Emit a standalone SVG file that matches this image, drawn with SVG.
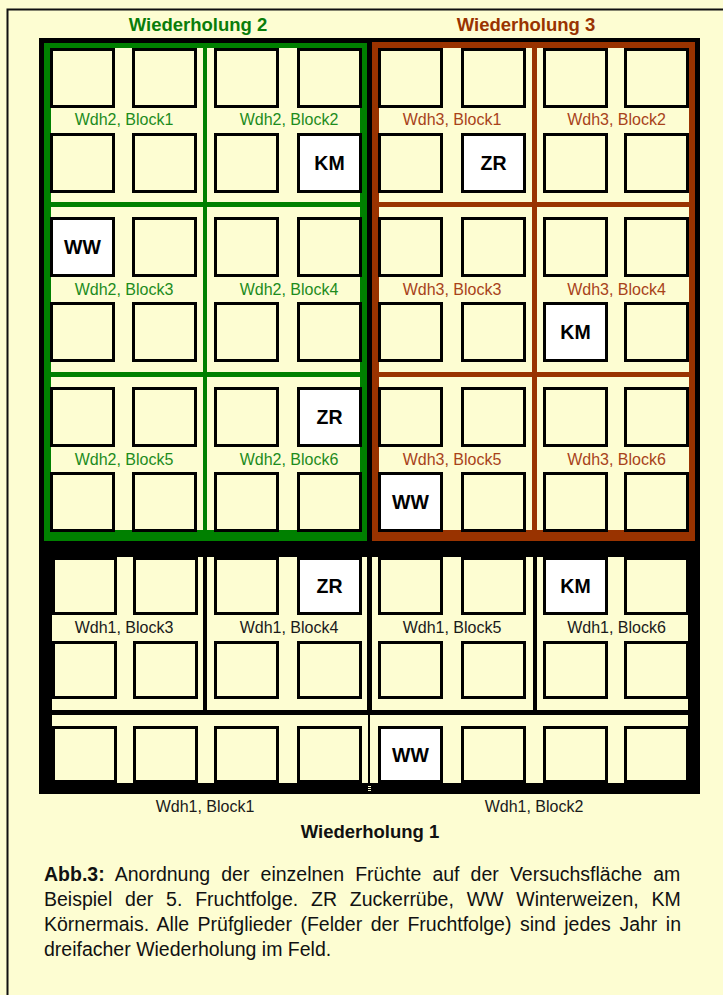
<svg xmlns="http://www.w3.org/2000/svg" width="723" height="995" viewBox="0 0 723 995">
<style>
  .cr{fill:#FDFDD2}
  .b{fill:#FDFDD2;stroke:#000;stroke-width:3}
  .w{fill:#FFFFFF;stroke:#000;stroke-width:3}
  .lbl{font-family:"Liberation Sans",Arial,sans-serif;font-size:16px;text-anchor:middle}
  .g{fill:#1d8c1d}
  .r{fill:#a8431a}
  .k{fill:#1a1a1a}
  .crop{font-family:"Liberation Sans",Arial,sans-serif;font-size:19.5px;font-weight:bold;text-anchor:middle;fill:#000}
  .title{font-family:"Liberation Sans",Arial,sans-serif;font-size:18.5px;font-weight:bold;text-anchor:middle}
  .cap{font-family:"Liberation Sans",Arial,sans-serif;font-size:19.5px;fill:#111}
</style>
<defs>
  <rect id="bx" class="b" width="62" height="57"/>
  <rect id="bx1" class="b" width="62" height="55"/>
  <rect id="bx2" class="b" width="62" height="54"/>
</defs>
<rect x="0" y="0" width="723" height="995" class="cr"/>
<g id="frame">
  <path d="M7.5,995 V9.5 H723" fill="none" stroke="#111" stroke-width="2"/>
</g>

<g id="titles">
  <text class="title" x="198" y="31" fill="#0a7d0a">Wiederholung 2</text>
  <text class="title" x="526" y="31" fill="#993300">Wiederholung 3</text>
</g>

<g id="field">
  <rect x="39" y="38" width="661" height="756" fill="#000"/>
  <rect x="44" y="43" width="323" height="498" fill="#008000"/>
  <rect x="372" y="42" width="323" height="499" fill="#993300"/>
  <!-- Wdh2 cells -->
  <rect class="cr" x="51" y="48" width="152" height="154"/>
  <rect class="cr" x="207" y="48" width="153" height="154"/>
  <rect class="cr" x="51" y="207" width="152" height="165"/>
  <rect class="cr" x="207" y="207" width="153" height="165"/>
  <rect class="cr" x="51" y="377" width="152" height="153"/>
  <rect class="cr" x="207" y="377" width="153" height="153"/>
  <!-- Wdh3 cells -->
  <rect class="cr" x="379" y="48" width="153" height="154"/>
  <rect class="cr" x="537" y="48" width="152" height="154"/>
  <rect class="cr" x="379" y="207" width="153" height="165"/>
  <rect class="cr" x="537" y="207" width="152" height="165"/>
  <rect class="cr" x="379" y="377" width="153" height="153"/>
  <rect class="cr" x="537" y="377" width="152" height="153"/>
  <!-- Wdh1 cells -->
  <rect class="cr" x="52" y="557" width="151" height="153"/>
  <rect class="cr" x="207" y="557" width="160" height="153"/>
  <rect class="cr" x="372" y="557" width="161" height="153"/>
  <rect class="cr" x="537" y="557" width="151" height="153"/>
  <rect class="cr" x="52" y="715" width="636" height="68"/>
  <rect x="368" y="715" width="2" height="68" fill="#000"/>
  <rect class="cr" x="368" y="786" width="3" height="1"/>
  <rect class="cr" x="368" y="788" width="3" height="1"/>
  <rect class="cr" x="368" y="790" width="3" height="1"/>
</g>

<g id="wdh2-block1">
  <use href="#bx" x="51.5" y="49.5"/><use href="#bx" x="133.5" y="49.5"/>
  <use href="#bx" x="51.5" y="134.5"/><use href="#bx" x="133.5" y="134.5"/>
  <text class="lbl g" x="124" y="125">Wdh2, Block1</text>
</g>
<g id="wdh2-block2">
  <use href="#bx" x="215.5" y="49.5"/><use href="#bx" x="298.5" y="49.5"/>
  <use href="#bx" x="215.5" y="134.5"/>
  <rect class="w" x="298.5" y="134.5" width="62" height="57"/>
  <text class="crop" x="329.5" y="170">KM</text>
  <text class="lbl g" x="289" y="125">Wdh2, Block2</text>
</g>
<g id="wdh2-block3">
  <rect class="w" x="51.5" y="218.5" width="62" height="57"/>
  <text class="crop" x="82.5" y="254">WW</text>
  <use href="#bx" x="133.5" y="218.5"/>
  <use href="#bx" x="51.5" y="303.5"/><use href="#bx" x="133.5" y="303.5"/>
  <text class="lbl g" x="124" y="295">Wdh2, Block3</text>
</g>
<g id="wdh2-block4">
  <use href="#bx" x="215.5" y="218.5"/><use href="#bx" x="298.5" y="218.5"/>
  <use href="#bx" x="215.5" y="303.5"/><use href="#bx" x="298.5" y="303.5"/>
  <text class="lbl g" x="289" y="295">Wdh2, Block4</text>
</g>
<g id="wdh2-block5">
  <use href="#bx" x="51.5" y="388.5"/><use href="#bx" x="133.5" y="388.5"/>
  <use href="#bx" x="51.5" y="473.5"/><use href="#bx" x="133.5" y="473.5"/>
  <text class="lbl g" x="124" y="465">Wdh2, Block5</text>
</g>
<g id="wdh2-block6">
  <use href="#bx" x="215.5" y="388.5"/>
  <rect class="w" x="298.5" y="388.5" width="62" height="57"/>
  <text class="crop" x="329.5" y="424">ZR</text>
  <use href="#bx" x="215.5" y="473.5"/><use href="#bx" x="298.5" y="473.5"/>
  <text class="lbl g" x="289" y="465">Wdh2, Block6</text>
</g>

<g id="wdh3-block1">
  <use href="#bx" x="379.5" y="49.5"/><use href="#bx" x="462.5" y="49.5"/>
  <use href="#bx" x="379.5" y="134.5"/>
  <rect class="w" x="462.5" y="134.5" width="62" height="57"/>
  <text class="crop" x="493.5" y="170">ZR</text>
  <text class="lbl r" x="452" y="125">Wdh3, Block1</text>
</g>
<g id="wdh3-block2">
  <use href="#bx" x="544.5" y="49.5"/><use href="#bx" x="625.5" y="49.5"/>
  <use href="#bx" x="544.5" y="134.5"/><use href="#bx" x="625.5" y="134.5"/>
  <text class="lbl r" x="616.5" y="125">Wdh3, Block2</text>
</g>
<g id="wdh3-block3">
  <use href="#bx" x="379.5" y="218.5"/><use href="#bx" x="462.5" y="218.5"/>
  <use href="#bx" x="379.5" y="303.5"/><use href="#bx" x="462.5" y="303.5"/>
  <text class="lbl r" x="452" y="295">Wdh3, Block3</text>
</g>
<g id="wdh3-block4">
  <use href="#bx" x="544.5" y="218.5"/><use href="#bx" x="625.5" y="218.5"/>
  <rect class="w" x="544.5" y="303.5" width="62" height="57"/>
  <text class="crop" x="575.5" y="339">KM</text>
  <use href="#bx" x="625.5" y="303.5"/>
  <text class="lbl r" x="616.5" y="295">Wdh3, Block4</text>
</g>
<g id="wdh3-block5">
  <use href="#bx" x="379.5" y="388.5"/><use href="#bx" x="462.5" y="388.5"/>
  <rect class="w" x="379.5" y="473.5" width="62" height="57"/>
  <text class="crop" x="410.5" y="509">WW</text>
  <use href="#bx" x="462.5" y="473.5"/>
  <text class="lbl r" x="452" y="465">Wdh3, Block5</text>
</g>
<g id="wdh3-block6">
  <use href="#bx" x="544.5" y="388.5"/><use href="#bx" x="625.5" y="388.5"/>
  <use href="#bx" x="544.5" y="473.5"/><use href="#bx" x="625.5" y="473.5"/>
  <text class="lbl r" x="616.5" y="465">Wdh3, Block6</text>
</g>

<g id="wdh1-block3">
  <use href="#bx1" x="53.5" y="558.5"/><use href="#bx1" x="134.5" y="558.5"/>
  <use href="#bx1" x="53.5" y="642.5"/><use href="#bx1" x="134.5" y="642.5"/>
  <text class="lbl k" x="124" y="633">Wdh1, Block3</text>
</g>
<g id="wdh1-block4">
  <use href="#bx1" x="215.5" y="558.5"/>
  <rect class="w" x="298.5" y="558.5" width="62" height="55"/>
  <text class="crop" x="329.5" y="593">ZR</text>
  <use href="#bx1" x="215.5" y="642.5"/><use href="#bx1" x="298.5" y="642.5"/>
  <text class="lbl k" x="289" y="633">Wdh1, Block4</text>
</g>
<g id="wdh1-block5">
  <use href="#bx1" x="379.5" y="558.5"/><use href="#bx1" x="462.5" y="558.5"/>
  <use href="#bx1" x="379.5" y="642.5"/><use href="#bx1" x="462.5" y="642.5"/>
  <text class="lbl k" x="452" y="633">Wdh1, Block5</text>
</g>
<g id="wdh1-block6">
  <rect class="w" x="544.5" y="558.5" width="62" height="55"/>
  <text class="crop" x="575.5" y="593">KM</text>
  <use href="#bx1" x="625.5" y="558.5"/>
  <use href="#bx1" x="544.5" y="642.5"/><use href="#bx1" x="625.5" y="642.5"/>
  <text class="lbl k" x="616.5" y="633">Wdh1, Block6</text>
</g>
<g id="wdh1-block1">
  <use href="#bx2" x="53.5" y="727.5"/><use href="#bx2" x="134.5" y="727.5"/>
  <use href="#bx2" x="215.5" y="727.5"/><use href="#bx2" x="298.5" y="727.5"/>
  <text class="lbl k" x="205" y="812">Wdh1, Block1</text>
</g>
<g id="wdh1-block2">
  <rect class="w" x="379.5" y="727.5" width="62" height="54"/>
  <text class="crop" x="410.5" y="762">WW</text>
  <use href="#bx2" x="462.5" y="727.5"/>
  <use href="#bx2" x="544.5" y="727.5"/><use href="#bx2" x="625.5" y="727.5"/>
  <text class="lbl k" x="534" y="812">Wdh1, Block2</text>
</g>
<text class="title" x="370" y="838" fill="#111">Wiederholung 1</text>

<g id="caption">
  <text class="cap" x="44" y="881" word-spacing="5.7"><tspan font-weight="bold">Abb.3:</tspan> Anordnung der einzelnen Früchte auf der Versuchsfläche am</text>
  <text class="cap" x="44" y="906" word-spacing="7.4">Beispiel der 5. Fruchtfolge. ZR Zuckerrübe, WW Winterweizen, KM</text>
  <text class="cap" x="44" y="931" word-spacing="3.1">Körnermais. Alle Prüfglieder (Felder der Fruchtfolge) sind jedes Jahr in</text>
  <text class="cap" x="44" y="956">dreifacher Wiederholung im Feld.</text>
</g>
</svg>
